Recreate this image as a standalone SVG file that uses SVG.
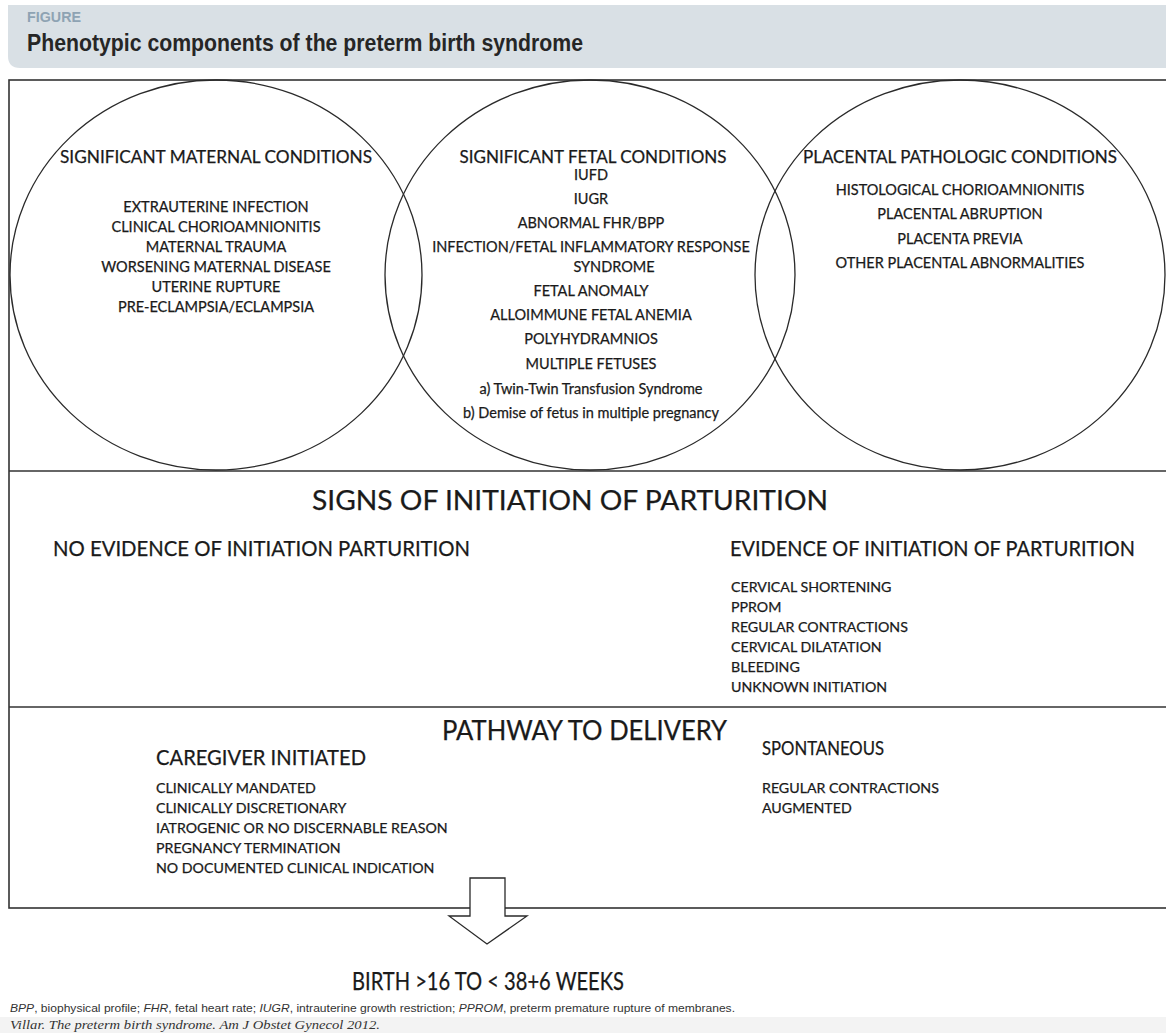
<svg xmlns="http://www.w3.org/2000/svg" width="1166" height="1033" viewBox="0 0 1166 1033">
<style>
.t{font-family:Lato,"Liberation Sans",sans-serif;fill:#1a1a1a;stroke:#1a1a1a;stroke-width:0.25}
.m{text-anchor:middle}
.ch{font-size:17.5px}
.ci{font-size:14.5px}
.sh{font-size:27px}
.sub{font-size:20.3px}
.li{font-size:14.2px}
.hd{font-family:"Liberation Sans",Arial,sans-serif;font-weight:bold}
.cap{font-family:"Liberation Sans",Arial,sans-serif;font-size:11.5px;fill:#333}
.shape{fill:none;stroke:#2a2a2a;stroke-width:1.3}
</style>
<rect width="1166" height="1033" fill="#fff"/>
<g id="header">
<path d="M8,5 H1166 V68 H20 Q8,68 8,56 Z" fill="#d9e0e5"/>
<text class="hd" x="27" y="22" font-size="14" fill="#8ea3b3" textLength="54" lengthAdjust="spacingAndGlyphs">FIGURE</text>
<text class="hd" x="27" y="51" font-size="23" fill="#262626" textLength="556" lengthAdjust="spacingAndGlyphs">Phenotypic components of the preterm birth syndrome</text>
</g>
<g id="frame">
<rect x="9" y="80" width="1170" height="828" fill="none" stroke="#333" stroke-width="1.6"/>
<line x1="9" y1="471" x2="1166" y2="471" stroke="#333" stroke-width="1.6"/>
<line x1="9" y1="707" x2="1166" y2="707" stroke="#333" stroke-width="1.6"/>
</g>
<g id="maternal">
<ellipse class="shape" cx="216" cy="275" rx="206" ry="195"/>
<text class="t m ch" x="216" y="163" textLength="312" lengthAdjust="spacingAndGlyphs">SIGNIFICANT MATERNAL CONDITIONS</text>
<text class="t m ci" x="216" y="212">EXTRAUTERINE INFECTION</text>
<text class="t m ci" x="216" y="232">CLINICAL CHORIOAMNIONITIS</text>
<text class="t m ci" x="216" y="252">MATERNAL TRAUMA</text>
<text class="t m ci" x="216" y="272">WORSENING MATERNAL DISEASE</text>
<text class="t m ci" x="216" y="292">UTERINE RUPTURE</text>
<text class="t m ci" x="216" y="312">PRE-ECLAMPSIA/ECLAMPSIA</text>
</g>
<g id="fetal">
<ellipse class="shape" cx="590" cy="275" rx="205" ry="195"/>
<text class="t m ch" x="593" y="163" textLength="267" lengthAdjust="spacingAndGlyphs">SIGNIFICANT FETAL CONDITIONS</text>
<text class="t m ci" x="591" y="180">IUFD</text>
<text class="t m ci" x="591" y="204">IUGR</text>
<text class="t m ci" x="591" y="228">ABNORMAL FHR/BPP</text>
<text class="t m ci" x="591" y="252">INFECTION/FETAL INFLAMMATORY RESPONSE</text>
<text class="t m ci" x="614" y="272">SYNDROME</text>
<text class="t m ci" x="591" y="296">FETAL ANOMALY</text>
<text class="t m ci" x="591" y="320">ALLOIMMUNE FETAL ANEMIA</text>
<text class="t m ci" x="591" y="344">POLYHYDRAMNIOS</text>
<text class="t m ci" x="591" y="369">MULTIPLE FETUSES</text>
<text class="t m ci" x="591" y="394">a) Twin-Twin Transfusion Syndrome</text>
<text class="t m ci" x="591" y="418">b) Demise of fetus in multiple pregnancy</text>
</g>
<g id="placental">
<ellipse class="shape" cx="960" cy="275" rx="205" ry="195"/>
<text class="t m ch" x="960" y="163" textLength="314" lengthAdjust="spacingAndGlyphs">PLACENTAL PATHOLOGIC CONDITIONS</text>
<text class="t m ci" x="960" y="195">HISTOLOGICAL CHORIOAMNIONITIS</text>
<text class="t m ci" x="960" y="219">PLACENTAL ABRUPTION</text>
<text class="t m ci" x="960" y="244">PLACENTA PREVIA</text>
<text class="t m ci" x="960" y="268">OTHER PLACENTAL ABNORMALITIES</text>
</g>
<g id="signs">
<text class="t m sh" x="570" y="510" textLength="516" lengthAdjust="spacingAndGlyphs">SIGNS OF INITIATION OF PARTURITION</text>
<text class="t sub" x="53" y="556" textLength="417" lengthAdjust="spacingAndGlyphs">NO EVIDENCE OF INITIATION PARTURITION</text>
<text class="t sub" x="730" y="556" textLength="405" lengthAdjust="spacingAndGlyphs">EVIDENCE OF INITIATION OF PARTURITION</text>
<text class="t li" x="731" y="592">CERVICAL SHORTENING</text>
<text class="t li" x="731" y="612">PPROM</text>
<text class="t li" x="731" y="632">REGULAR CONTRACTIONS</text>
<text class="t li" x="731" y="652">CERVICAL DILATATION</text>
<text class="t li" x="731" y="672">BLEEDING</text>
<text class="t li" x="731" y="692">UNKNOWN INITIATION</text>
</g>
<g id="pathway">
<text class="t sh" x="442" y="740" font-size="26" textLength="285" lengthAdjust="spacingAndGlyphs">PATHWAY TO DELIVERY</text>
<text class="t sub" x="156" y="765" textLength="210" lengthAdjust="spacingAndGlyphs">CAREGIVER INITIATED</text>
<text class="t li" x="156" y="793">CLINICALLY MANDATED</text>
<text class="t li" x="156" y="813">CLINICALLY DISCRETIONARY</text>
<text class="t li" x="156" y="833">IATROGENIC OR NO DISCERNABLE REASON</text>
<text class="t li" x="156" y="853">PREGNANCY TERMINATION</text>
<text class="t li" x="156" y="873">NO DOCUMENTED CLINICAL INDICATION</text>
<text class="t" x="762" y="755" font-size="18.5" textLength="122" lengthAdjust="spacingAndGlyphs">SPONTANEOUS</text>
<text class="t li" x="762" y="793">REGULAR CONTRACTIONS</text>
<text class="t li" x="762" y="813">AUGMENTED</text>
</g>
<g id="connectors">
<polygon points="470,878 505,878 505,916 527,916 487,944 449,916 470,916" fill="#fff" stroke="#2a2a2a" stroke-width="1.3"/>
</g>
<g id="birth">
<text class="t m" x="488" y="990" font-size="25" textLength="272" lengthAdjust="spacingAndGlyphs">BIRTH &gt;16 TO &lt; 38+6 WEEKS</text>
</g>
<g id="caption">
<rect x="0" y="1017" width="1166" height="16" fill="#f3f3f3"/>
<text class="cap" x="10" y="1012" textLength="725" lengthAdjust="spacingAndGlyphs"><tspan font-style="italic">BPP</tspan>, biophysical profile; <tspan font-style="italic">FHR</tspan>, fetal heart rate; <tspan font-style="italic">IUGR</tspan>, intrauterine growth restriction; <tspan font-style="italic">PPROM</tspan>, preterm premature rupture of membranes.</text>
<text x="10" y="1029" font-family="'Liberation Serif',serif" font-style="italic" font-size="13" fill="#333" textLength="370" lengthAdjust="spacingAndGlyphs">Villar. The preterm birth syndrome. Am J Obstet Gynecol 2012.</text>
</g>
</svg>
